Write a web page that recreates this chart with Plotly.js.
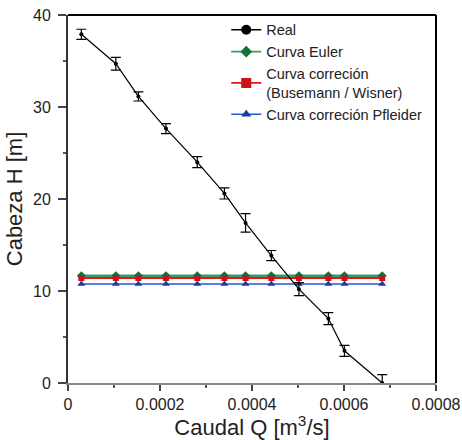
<!DOCTYPE html>
<html>
<head>
<meta charset="utf-8">
<script src="https://cdn.plot.ly/plotly-3.0.1.min.js"></script>
<style>html,body{margin:0;padding:0;background:#fff;}#chart{width:462px;height:440px;}</style>
</head>
<body>
<div id="chart"></div>
<script>
// Data
const caudalQ = [0.000029, 0.000104, 0.000153, 0.000213, 0.000281, 0.000340, 0.000386, 0.000442, 0.000502, 0.000566, 0.000601, 0.000683];
const hReal   = [37.9, 34.7, 31.15, 27.65, 24.0, 20.6, 17.4, 13.85, 10.2, 7.0, 3.5, 0.0];
const errReal = [0.55, 0.7, 0.5, 0.55, 0.6, 0.6, 1.0, 0.55, 0.7, 0.65, 0.6, 0.9];
const hEuler  = [11.66, 11.66, 11.66, 11.66, 11.66, 11.66, 11.66, 11.66, 11.66, 11.66, 11.66, 11.66];
const hBusemannWisner = [11.41, 11.41, 11.41, 11.41, 11.41, 11.41, 11.41, 11.41, 11.41, 11.41, 11.41, 11.41];
const hPfleider = [10.76, 10.76, 10.76, 10.76, 10.76, 10.76, 10.76, 10.76, 10.76, 10.76, 10.76, 10.76];
const seriesNames = ['Real', 'Curva Euler', 'Curva correción<br>(Busemann / Wisner)', 'Curva correción Pfleider'];
const xTickVals = [0, 0.0002, 0.0004, 0.0006, 0.0008];
const xTickText = ['0', '0.0002', '0.0004', '0.0006', '0.0008'];
const yTickVals = [0, 10, 20, 30, 40];
const yTickText = ['0', '10', '20', '30', '40'];

const FONT = 'Liberation Sans, Arial, sans-serif';

const styles = [
  {line: {color: '#000', width: 1.2}, marker: {symbol: 'circle', size: 4, color: '#000'}, legMarker: 10, legLine: 1.5},
  {line: {color: '#3d9a5e', width: 2.5}, marker: {symbol: 'diamond', size: 7, color: '#13703a'}, legMarker: 9, legLine: 1.8},
  {line: {color: '#e3161e', width: 2}, marker: {symbol: 'square', size: 6, color: '#cc1218'}, legMarker: 10, legLine: 1.8},
  {line: {color: '#2458c8', width: 1.3}, marker: {symbol: 'triangle-up', size: 7, color: '#1a3d9e'}, legMarker: 9, legLine: 1.5}
];
const seriesY = [hReal, hEuler, hBusemannWisner, hPfleider];

const traces = [];
// data traces (drawn: theoretical curves first, Real on top)
[1, 2, 3, 0].forEach(function (i) {
  const t = {
    x: caudalQ, y: seriesY[i], name: seriesNames[i], type: 'scatter', mode: 'lines+markers',
    line: styles[i].line, marker: styles[i].marker, showlegend: false, legendgroup: 'g' + i,
    cliponaxis: false, hoverinfo: 'skip'
  };
  if (i === 0) {
    t.error_y = {type: 'data', array: errReal, visible: true, color: '#000', thickness: 1.2, width: 5};
  }
  traces.push(t);
});
// legend entries (larger symbols as in the reference legend)
[0, 1, 2, 3].forEach(function (i) {
  traces.push({
    x: [null], y: [null], name: seriesNames[i], type: 'scatter', mode: 'lines+markers',
    line: {color: styles[i].line.color, width: styles[i].legLine},
    marker: {symbol: styles[i].marker.symbol, size: styles[i].legMarker, color: styles[i].marker.color},
    legendgroup: 'g' + i, showlegend: true, legendrank: i + 1
  });
});

const layout = {
  width: 462, height: 440,
  margin: {l: 68, r: 26, t: 15, b: 57, pad: 0},
  paper_bgcolor: '#fff', plot_bgcolor: '#fff',
  font: {family: FONT, color: '#222', size: 16},
  showlegend: true,
  legend: {
    x: 0.43, y: 1.003, xanchor: 'left', yanchor: 'top',
    bgcolor: 'rgba(0,0,0,0)', borderwidth: 0,
    font: {family: FONT, size: 14.5, color: '#222'},
    traceorder: 'normal', tracegroupgap: 0
  },
  xaxis: {
    range: [0, 0.0008], tickmode: 'array', tickvals: xTickVals, ticktext: xTickText,
    showgrid: false, zeroline: false,
    showline: true, linecolor: '#888', linewidth: 2,
    ticks: 'outside', ticklen: 6, tickwidth: 1.5, tickcolor: '#444',
    minor: {ticks: 'outside', ticklen: 3, tickwidth: 1.2, tickcolor: '#555', tick0: 0, dtick: 0.0001, showgrid: false},
    tickfont: {family: FONT, size: 16, color: '#222'},
    title: {text: 'Caudal Q [m<sup>3</sup>/s]', font: {family: FONT, size: 22, color: '#222'}, standoff: 6},
    automargin: false
  },
  yaxis: {
    range: [0, 40], tickmode: 'array', tickvals: yTickVals, ticktext: yTickText,
    showgrid: false, zeroline: false,
    showline: true, linecolor: '#333', linewidth: 2,
    ticks: 'outside', ticklen: 8, tickwidth: 1.5, tickcolor: '#444',
    ticklabelstandoff: 4,
    minor: {ticks: 'outside', ticklen: 3, tickwidth: 1.2, tickcolor: '#555', tick0: 0, dtick: 5, showgrid: false},
    tickfont: {family: FONT, size: 16, color: '#222'},
    title: {text: 'Cabeza H [m]', font: {family: FONT, size: 22, color: '#222'}, standoff: 4},
    automargin: false
  },
  shapes: [
    {type: 'line', xref: 'paper', yref: 'paper', x0: 0, x1: 1, y0: 1, y1: 1, line: {color: '#000', width: 2}},
    {type: 'line', xref: 'paper', yref: 'paper', x0: 1, x1: 1, y0: 0, y1: 1, line: {color: '#000', width: 2}}
  ]
};

Plotly.newPlot('chart', traces, layout, {displayModeBar: false, staticPlot: true});
</script>
</body>
</html>
